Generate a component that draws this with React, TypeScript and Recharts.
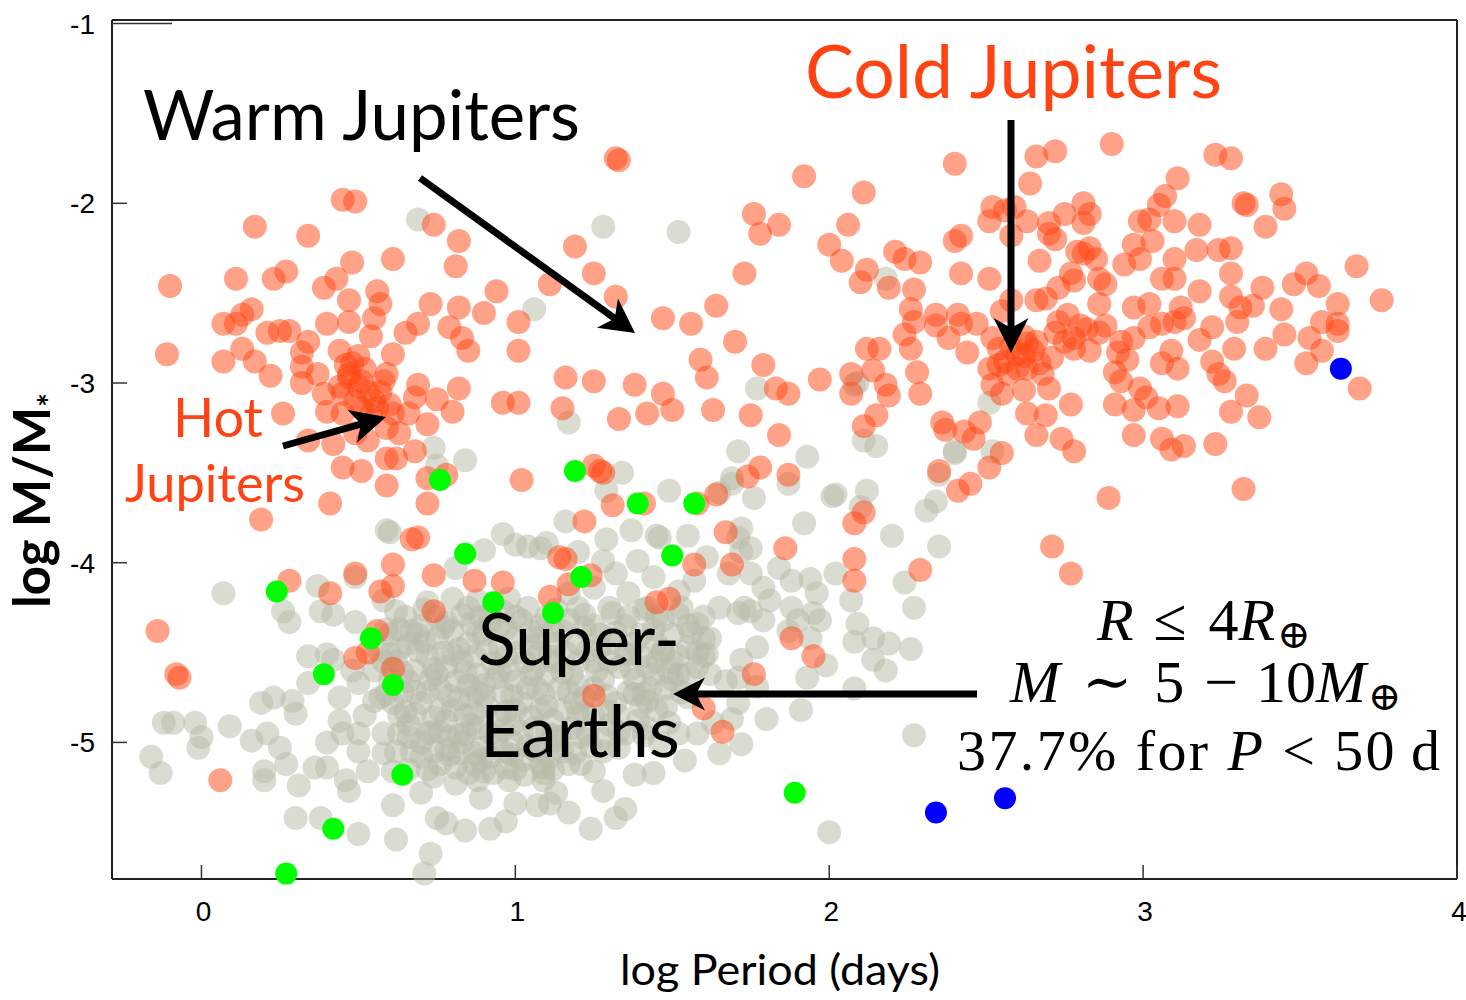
import React from 'react';
import { ScatterChart, Scatter, XAxis, YAxis } from 'recharts';

type Pt = [number, number];

// axis ticks
const xTicks = [0, 1, 2, 3, 4];
const yTicks = [-1, -2, -3, -4, -5];
const topTicks = [0, 0.893, 1.635, 3.0];
const rightTicks = [-1.94, -2.89, -3.84, -4.8];

// [log Period (days), log M/M*]
const hotJupiters: Pt[] = [
  [0.45, -1.98], [0.49, -1.99], [0.17, -2.13], [0.34, -2.18], [0.61, -2.31], [0.48, -2.33], [-0.10, -2.46],
  [0.11, -2.42], [0.23, -2.42], [0.27, -2.38], [0.39, -2.47], [0.43, -2.42], [0.47, -2.54], [0.56, -2.49],
  [0.57, -2.56], [0.16, -2.59], [0.13, -2.62], [0.07, -2.67], [0.11, -2.67], [0.21, -2.72], [0.25, -2.71],
  [0.28, -2.71], [0.40, -2.67], [0.47, -2.66], [0.55, -2.64], [0.54, -2.74], [0.73, -2.56], [0.82, -2.58],
  [0.90, -2.61], [0.94, -2.49], [0.65, -2.72], [0.69, -2.67], [0.79, -2.69], [0.83, -2.75], [0.85, -2.82],
  [-0.11, -2.84], [0.07, -2.88], [0.13, -2.81], [0.17, -2.88], [0.22, -2.96], [0.34, -2.77], [0.32, -2.83],
  [0.32, -2.91], [0.32, -3.00], [0.37, -2.95], [0.44, -2.82], [0.48, -2.89], [0.51, -2.99], [0.47, -2.97],
  [0.45, -3.06], [0.61, -2.84], [0.59, -2.95], [0.58, -2.99], [0.69, -3.01], [0.68, -3.08], [0.75, -3.09],
  [0.82, -3.03], [0.80, -3.16], [0.39, -3.06], [0.40, -3.16], [0.45, -3.17], [0.51, -3.14], [0.56, -3.14],
  [0.61, -3.17], [0.59, -3.25], [0.63, -3.28], [0.66, -3.17], [0.72, -3.23], [0.26, -3.17], [0.34, -3.32],
  [0.42, -3.34], [0.49, -3.28], [0.53, -3.32], [0.45, -3.47], [0.51, -3.49], [0.59, -3.42], [0.62, -3.42],
  [0.68, -3.38], [0.72, -3.53], [0.78, -3.51], [0.59, -3.57], [0.72, -3.67], [0.41, -3.67], [0.19, -3.76],
  [0.47, -2.95], [0.50, -3.02], [0.53, -3.05], [0.55, -3.10], [0.49, -3.10], [0.44, -3.02], [0.52, -2.92],
  [0.57, -3.05], [0.54, -3.18], [0.60, -3.12], [0.46, -2.90], [0.50, -2.85],
];

const warmJupiters: Pt[] = [
  [1.32, -1.75], [1.33, -1.76], [1.92, -1.85], [1.76, -2.06], [1.78, -2.17], [1.84, -2.12], [1.19, -2.24],
  [1.25, -2.39], [1.11, -2.45], [1.32, -2.52], [0.96, -3.11], [1.01, -3.11], [1.02, -3.54], [1.01, -2.82],
  [1.01, -2.66], [1.47, -2.64], [1.56, -2.67], [1.64, -2.57], [1.73, -2.39], [1.70, -2.77], [1.59, -2.87],
  [1.61, -2.97], [1.79, -2.90], [1.83, -3.03], [1.87, -3.06], [1.97, -2.98], [1.16, -2.97], [1.25, -2.99],
  [1.38, -3.01], [1.47, -3.06], [1.50, -3.15], [1.42, -3.17], [1.33, -3.20], [1.15, -3.14], [1.63, -3.15],
  [1.75, -3.18], [1.84, -3.29], [1.25, -3.46], [1.28, -3.50], [1.78, -3.47], [1.74, -3.52], [1.87, -3.51],
  [1.31, -3.68], [1.41, -3.67], [1.58, -3.67], [1.64, -3.62], [1.22, -3.77], [1.67, -3.83], [1.86, -3.92],
  [1.57, -4.01], [1.16, -3.98], [1.69, -4.01], [1.27, -3.49], [0.82, -2.21], [0.81, -2.35], [0.74, -2.12],
];

const coldJupiters: Pt[] = [
  [2.11, -1.94], [2.06, -2.12], [2.00, -2.23], [2.04, -2.32], [2.12, -2.37], [2.10, -2.44], [2.21, -2.27],
  [2.24, -2.31], [2.07, -2.95], [2.07, -3.06], [2.14, -2.93], [2.18, -3.01], [2.19, -3.07], [2.12, -2.81],
  [2.16, -2.81], [2.15, -3.18], [2.11, -3.24], [2.08, -3.78], [2.11, -3.72], [2.08, -3.98], [2.08, -4.10],
  [2.40, -1.78], [2.66, -1.74], [2.72, -1.71], [2.90, -1.67], [3.23, -1.73], [3.28, -1.75], [3.11, -1.86],
  [3.32, -2.00], [3.33, -2.01], [2.64, -1.89], [2.52, -2.02], [2.51, -2.10], [2.56, -2.04], [2.59, -2.02],
  [2.63, -2.10], [2.58, -2.18], [2.42, -2.18], [2.40, -2.21], [2.70, -2.11], [2.70, -2.17], [2.72, -2.20],
  [2.75, -2.06], [2.81, -2.00], [2.83, -2.06], [2.81, -2.11], [3.07, -1.96], [3.05, -2.01], [2.99, -2.10],
  [3.02, -2.09], [3.10, -2.10], [3.18, -2.12], [3.03, -2.21], [2.97, -2.23], [3.24, -2.26], [3.28, -2.25],
  [3.17, -2.26], [3.10, -2.31], [2.67, -2.32], [2.79, -2.27], [2.83, -2.25], [2.85, -2.31], [2.99, -2.31],
  [2.94, -2.34], [2.29, -2.33], [2.42, -2.39], [2.51, -2.42], [2.19, -2.47], [2.27, -2.48], [2.26, -2.59],
  [2.27, -2.66], [2.24, -2.73], [2.26, -2.81], [2.34, -2.62], [2.34, -2.68], [2.38, -2.75], [2.41, -2.62],
  [2.42, -2.67], [2.44, -2.83], [2.47, -2.67], [2.52, -2.75], [2.58, -2.54], [2.55, -2.60], [2.66, -2.54],
  [2.69, -2.53], [2.73, -2.47], [2.78, -2.43], [2.77, -2.39], [2.81, -2.28], [2.86, -2.42], [2.88, -2.45],
  [2.86, -2.56], [2.76, -2.62], [2.73, -2.66], [2.80, -2.68], [2.88, -2.68], [2.97, -2.58], [3.02, -2.56],
  [3.06, -2.42], [3.10, -2.42], [3.18, -2.49], [3.12, -2.58], [3.13, -2.64], [3.10, -2.66], [3.28, -2.39],
  [3.28, -2.52], [3.31, -2.58], [3.30, -2.66], [3.22, -2.69], [3.18, -2.76], [3.29, -2.81], [3.06, -2.67],
  [3.02, -2.69], [2.97, -2.75], [2.93, -2.77], [2.92, -2.83], [2.95, -2.87], [2.83, -2.82], [2.78, -2.81],
  [2.75, -2.77], [2.71, -2.86], [2.62, -2.74], [2.66, -2.77], [2.60, -2.84], [2.56, -2.88], [2.54, -2.81],
  [2.51, -2.92], [2.52, -3.01], [2.55, -3.06], [2.63, -2.92], [2.67, -2.89], [2.70, -3.03], [2.62, -3.04],
  [2.63, -3.17], [2.69, -3.18], [2.66, -3.29], [2.77, -3.12], [2.74, -3.31], [2.78, -3.38], [2.91, -2.94],
  [2.93, -2.99], [2.99, -3.03], [3.01, -3.08], [2.91, -3.12], [2.97, -3.15], [3.05, -3.14], [3.11, -3.13],
  [3.06, -2.89], [3.11, -2.92], [3.09, -2.82], [3.22, -2.88], [3.24, -2.95], [3.26, -2.99], [3.28, -3.16],
  [2.97, -3.29], [3.06, -3.31], [3.09, -3.37], [3.13, -3.35], [3.23, -3.34], [2.89, -3.64], [3.32, -3.59],
  [2.36, -3.22], [2.37, -3.26], [2.43, -3.27], [2.46, -3.31], [2.48, -3.22], [2.55, -3.39], [2.51, -3.47],
  [2.35, -3.49], [2.41, -3.60], [2.45, -3.56], [2.29, -3.06], [2.28, -2.94], [2.71, -3.91], [2.77, -4.06],
  [2.29, -4.04], [3.44, -1.95], [3.45, -2.03], [3.39, -2.13], [3.68, -2.35], [3.76, -2.54], [3.48, -2.45],
  [3.52, -2.39], [3.56, -2.46], [3.62, -2.56], [3.62, -2.67], [3.57, -2.66], [3.62, -2.71], [3.38, -2.47],
  [3.44, -2.59], [3.35, -2.57], [3.39, -2.81], [3.45, -2.73], [3.53, -2.75], [3.57, -2.82], [3.52, -2.89],
  [3.69, -3.03], [3.33, -3.07], [3.37, -3.19], [2.58, -2.80], [2.62, -2.85], [2.60, -2.92], [2.65, -2.82],
  [2.57, -2.95], [2.68, -2.95], [2.63, -2.78], [2.54, -2.90], [2.72, -2.72], [2.78, -2.75], [2.82, -2.70],
  [2.86, -2.72],
];

const lowMassGiants: Pt[] = [
  [0.67, -3.87], [0.69, -3.86], [0.61, -4.01], [0.61, -4.13], [0.49, -4.06], [0.28, -4.10], [0.41, -4.17],
  [0.57, -4.16], [0.74, -4.07], [-0.14, -4.38], [-0.08, -4.62], [-0.07, -4.64], [0.06, -5.21], [0.56, -4.38],
  [0.49, -4.53], [0.53, -4.50], [0.61, -4.59], [0.74, -4.27], [0.87, -4.10], [0.96, -4.11], [1.14, -3.97],
  [1.17, -4.12], [1.11, -4.19], [1.24, -4.07], [1.88, -4.42], [1.95, -4.52], [1.76, -4.62], [1.66, -4.94],
  [1.60, -4.81], [1.25, -4.74], [1.45, -4.22], [1.49, -4.20],
];

const superEarths: Pt[] = [
  [1.28, -2.13], [1.52, -2.16], [1.06, -2.59], [1.17, -3.22], [1.77, -3.03], [2.08, -3.01], [2.18, -2.42],
  [2.11, -3.32], [2.15, -3.35], [1.71, -3.38], [1.93, -3.41], [1.34, -3.50], [1.29, -3.60], [1.49, -3.60],
  [1.69, -3.53], [1.65, -3.61], [1.76, -3.64], [1.87, -3.56], [2.01, -3.63], [2.12, -3.60], [2.10, -3.69],
  [1.92, -3.78], [2.20, -3.85], [1.55, -3.85], [1.46, -3.86], [1.71, -3.86], [1.72, -3.94], [0.69, -2.09],
  [0.74, -3.36], [0.84, -3.43], [0.75, -3.46], [0.59, -3.82], [0.96, -3.84], [0.60, -3.83], [1.00, -3.90],
  [0.90, -3.93], [1.16, -3.77], [0.81, -4.03], [1.04, -3.91], [1.08, -3.92], [0.07, -4.17], [0.26, -4.27],
  [0.28, -4.33], [0.37, -4.13], [0.38, -4.27], [0.42, -4.29], [0.49, -4.08], [0.49, -4.33], [0.58, -4.21],
  [0.63, -4.37], [0.72, -4.22], [0.88, -4.21], [0.34, -4.52], [0.40, -4.51], [0.34, -4.67], [0.42, -4.54],
  [0.19, -4.78], [0.23, -4.75], [0.29, -4.77], [0.30, -4.84], [0.44, -4.75], [0.50, -4.67], [0.55, -4.77],
  [-0.12, -4.89], [-0.09, -4.89], [-0.02, -4.89], [0.00, -4.97], [-0.01, -5.03], [0.09, -4.91], [-0.16, -5.08],
  [-0.13, -5.17], [0.16, -4.99], [0.21, -4.95], [0.25, -5.03], [0.20, -5.16], [0.20, -5.21], [0.27, -5.12],
  [0.31, -5.24], [0.36, -5.14], [0.40, -5.14], [0.46, -5.21], [0.47, -5.27], [0.53, -5.16], [0.58, -5.06],
  [0.61, -5.16], [0.40, -5.00], [0.44, -4.88], [0.50, -4.95], [0.61, -5.35], [0.30, -5.42], [0.38, -5.42],
  [0.50, -5.51], [0.62, -5.54], [0.73, -5.62], [0.71, -5.73], [0.70, -5.28], [0.74, -5.19], [0.75, -5.42],
  [0.78, -5.45], [0.84, -5.49], [0.92, -5.48], [0.97, -5.44], [1.00, -5.34], [1.07, -5.35], [1.13, -5.28],
  [1.17, -5.39], [0.89, -5.31], [0.81, -5.23], [0.88, -5.21], [0.98, -5.21], [1.09, -5.21], [2.40, -3.38],
  [1.69, -3.56], [2.31, -3.71], [2.34, -3.66], [2.35, -3.91], [2.24, -4.11], [2.27, -4.25], [2.19, -4.45],
  [2.26, -4.48], [2.14, -4.54], [2.18, -4.60], [2.09, -4.34], [2.08, -4.44], [2.07, -4.21], [1.99, -4.57],
  [2.08, -4.70], [1.91, -4.82], [1.80, -4.87], [1.93, -4.64], [2.27, -4.96], [2.00, -5.50], [1.94, -4.09],
  [2.02, -4.06], [1.96, -4.17], [1.88, -4.25], [1.90, -4.32], [1.95, -4.28], [1.97, -4.32], [1.87, -4.38],
  [1.94, -4.42], [1.81, -4.21], [1.88, -4.10], [1.84, -4.03], [1.75, -4.06], [1.79, -4.14], [1.73, -4.25],
  [1.75, -4.27], [1.79, -4.32], [1.77, -4.47], [1.72, -4.54], [1.71, -4.64], [1.77, -4.69], [1.71, -4.78],
  [1.69, -4.87], [1.72, -5.01], [1.65, -5.06], [1.63, -4.89], [1.54, -5.10], [1.44, -5.17], [1.35, -5.37],
  [1.32, -5.42], [1.28, -5.27], [1.24, -5.48], [1.11, -5.34], [1.21, -5.12], [1.38, -5.18], [1.58, -4.95],
  [1.49, -4.89], [1.67, -4.66], [1.62, -4.42], [1.65, -4.25], [1.71, -4.28], [1.68, -4.06], [1.61, -3.97],
  [1.57, -4.10], [1.52, -4.16], [1.75, -3.92], [1.72, -3.81], [1.45, -3.85], [1.37, -3.82], [1.29, -3.87],
  [1.10, -3.89], [1.20, -3.94], [1.28, -3.99], [1.39, -3.99], [1.32, -4.06], [1.44, -4.08], [1.36, -4.17],
  [1.25, -4.14], [1.17, -4.17], [1.30, -4.25], [1.42, -4.25], [1.53, -4.25], [1.58, -4.34], [1.47, -4.32],
  [1.61, -4.51], [1.55, -4.47], [1.47, -4.49], [1.52, -4.62], [1.44, -4.62], [1.55, -4.75], [1.42, -4.77],
  [1.39, -4.88], [1.33, -5.03], [1.21, -4.97], [1.13, -4.99], [1.09, -5.17], [2.09, -3.00], [2.40, -3.39],
  [2.52, -3.38], [2.51, -3.11], [2.35, -3.51], [2.02, -3.62], [2.14, -4.42],
  [0.60, -4.40], [0.66, -4.45], [0.70, -4.35], [0.75, -4.42], [0.80, -4.38], [0.85, -4.45], [0.90, -4.40],
  [0.95, -4.35], [1.00, -4.42], [1.05, -4.38], [0.62, -4.55], [0.68, -4.60], [0.72, -4.52], [0.78, -4.58],
  [0.83, -4.55], [0.88, -4.62], [0.93, -4.56], [0.98, -4.60], [1.03, -4.55], [1.08, -4.50], [0.64, -4.72],
  [0.70, -4.78], [0.76, -4.70], [0.80, -4.82], [0.86, -4.75], [0.91, -4.80], [0.96, -4.72], [1.02, -4.78],
  [1.07, -4.70], [0.66, -4.90], [0.72, -4.95], [0.78, -4.88], [0.83, -5.00], [0.88, -4.92], [0.94, -4.98],
  [0.99, -4.90], [1.04, -5.02], [1.10, -4.95], [0.70, -5.08], [0.76, -5.12], [0.82, -5.06], [0.87, -5.12],
  [0.92, -5.08], [0.97, -5.14], [1.02, -5.10], [1.08, -5.12], [0.80, -4.20], [0.85, -4.25], [0.92, -4.28],
  [0.98, -4.20], [1.04, -4.25], [1.10, -4.30], [1.15, -4.38], [1.20, -4.45], [1.12, -4.55], [1.18, -4.62],
  [1.25, -4.55], [1.30, -4.45], [1.35, -4.50], [1.40, -4.40], [1.28, -4.65], [1.22, -4.75], [1.15, -4.82],
  [1.18, -4.92], [1.25, -4.85], [1.32, -4.78], [1.38, -4.65], [1.45, -4.55], [1.50, -4.40], [1.55, -4.35],
  [1.60, -4.30], [1.48, -4.70], [0.55, -4.60], [0.52, -4.85], [0.58, -4.95], [0.62, -5.05], [0.56, -4.48],
  [0.48, -4.60], [0.45, -4.95], [0.50, -5.05],
  [0.65, -4.30], [0.75, -4.30], [0.95, -4.47], [1.06, -4.46], [0.86, -4.34], [0.73, -4.65], [0.81, -4.66],
  [0.90, -4.68], [1.00, -4.66], [1.10, -4.62], [1.14, -4.70], [0.68, -4.84], [0.74, -4.86], [0.84, -4.85],
  [0.95, -4.85], [1.05, -4.86], [1.12, -4.88], [0.70, -5.00], [0.79, -4.97], [0.89, -5.03], [0.99, -5.00],
  [1.07, -5.05], [1.15, -5.05], [0.74, -5.05], [0.85, -5.17], [0.93, -5.17], [1.03, -5.18], [1.12, -5.15],
  [0.66, -5.15], [1.20, -4.55], [1.27, -4.47], [1.33, -4.58], [1.40, -4.52], [1.45, -4.45], [1.35, -4.35],
  [1.25, -4.35], [1.20, -4.25], [1.43, -4.70], [1.36, -4.72], [1.30, -4.90], [1.22, -4.83], [1.28, -4.98],
  [1.35, -4.95], [1.40, -4.80], [1.50, -4.55], [1.58, -4.50], [1.62, -4.62], [1.55, -4.62], [1.48, -4.80],
  [1.46, -5.00], [1.52, -4.95], [0.92, -4.33], [1.02, -4.32], [1.13, -4.45], [0.84, -4.95], [0.60, -4.65],
  [0.57, -4.75], [0.63, -4.85], [1.05, -4.62], [0.82, -4.48],
  [0.63, -4.48], [0.71, -4.44], [0.77, -4.50], [0.87, -4.52], [0.97, -4.52], [1.07, -4.42], [1.16, -4.50],
  [0.66, -4.66], [0.75, -4.62], [0.85, -4.68], [0.94, -4.64], [1.04, -4.70], [1.20, -4.68], [0.61, -4.78],
  [0.72, -4.72], [0.82, -4.76], [0.90, -4.74], [1.00, -4.82], [1.10, -4.80], [1.19, -4.78], [0.66, -4.97],
  [0.76, -4.94], [0.86, -4.90], [0.96, -4.93], [1.06, -4.92], [1.14, -4.97], [1.24, -5.02], [0.79, -5.07],
  [0.89, -5.10], [0.99, -5.07], [1.11, -5.08], [1.17, -5.12], [0.78, -4.33], [0.89, -4.30], [1.00, -4.30],
  [1.08, -4.35], [1.17, -4.32], [1.27, -4.40], [1.38, -4.45], [1.30, -4.55], [1.42, -4.58], [1.52, -4.52],
  [1.25, -4.70], [1.33, -4.85], [1.42, -4.92], [1.38, -4.73], [1.50, -4.65], [1.60, -4.42], [1.45, -4.30],
  [1.36, -4.30], [0.69, -4.40], [0.58, -4.55],
  [0.62, -4.27], [0.71, -4.26], [0.83, -4.29], [0.96, -4.27], [1.13, -4.26], [1.22, -4.29], [1.31, -4.28],
  [1.41, -4.26], [1.52, -4.29], [0.59, -4.37], [0.67, -4.38], [0.77, -4.36], [0.88, -4.39], [0.97, -4.37],
  [1.12, -4.38], [1.22, -4.36], [1.32, -4.39], [1.44, -4.37], [1.56, -4.39], [0.60, -4.51], [0.69, -4.49],
  [0.80, -4.51], [0.91, -4.49], [1.01, -4.50], [1.11, -4.52], [1.23, -4.49], [1.36, -4.51], [1.47, -4.50],
  [1.60, -4.52], [0.64, -4.61], [0.74, -4.59], [0.84, -4.61], [0.95, -4.60], [1.06, -4.59], [1.15, -4.61],
  [1.26, -4.60], [1.37, -4.59], [1.49, -4.61], [1.58, -4.58], [0.59, -4.73], [0.68, -4.72], [0.79, -4.74],
  [0.88, -4.72], [0.99, -4.74], [1.09, -4.73], [1.17, -4.72], [1.29, -4.74], [1.41, -4.73], [1.53, -4.72],
  [0.65, -4.83], [0.76, -4.82], [0.87, -4.84], [0.97, -4.83], [1.08, -4.82], [1.20, -4.84], [1.30, -4.83],
  [1.45, -4.82], [0.63, -4.95], [0.73, -4.94], [0.82, -4.96], [0.92, -4.95], [1.02, -4.94], [1.12, -4.96],
  [1.23, -4.95], [1.33, -4.94], [1.41, -4.96], [0.67, -5.05], [0.78, -5.04], [0.87, -5.06], [0.96, -5.05],
  [1.06, -5.04], [1.19, -5.06], [1.28, -5.05], [0.72, -5.15], [0.81, -5.14], [0.90, -5.16], [1.00, -5.15],
  [1.09, -5.14], [1.25, -5.16],
];

const greenPlanets: Pt[] = [
  [0.76, -3.54], [1.19, -3.49], [1.39, -3.67], [1.57, -3.67], [0.84, -3.95], [1.50, -3.96], [1.21, -4.08],
  [0.93, -4.22], [1.12, -4.28], [0.24, -4.16], [0.54, -4.42], [0.39, -4.62], [0.61, -4.68], [0.64, -5.18],
  [1.89, -5.28], [0.42, -5.48], [0.27, -5.73],
];

const bluePlanets: Pt[] = [
  [3.63, -2.92], [2.56, -5.31], [2.34, -5.39],
];

const toRows = (pts: Pt[]) => pts.map(([p, m]) => ({ p, m }));

const ORANGE = '#ff4512';
const GRAY = '#b6b9a6';
const LABEL_ORANGE = '#ff4313';
const TICK_FONT = '"Liberation Sans", Arial, sans-serif';
const SANS = 'Lato, "Open Sans", sans-serif';
const SERIF = '"Liberation Serif", "DejaVu Serif", serif';

const dot = (fill: string, opacity: number, r: number) => (props: any) =>
  props.cx == null ? <g /> : <circle cx={props.cx} cy={props.cy} r={r} fill={fill} fillOpacity={opacity} />;

const BottomTick = (props: any) => {
  const { x, y, payload } = props;
  return (
    <g>
      <line x1={x} y1={y} x2={x} y2={y - 14} stroke="#333" strokeWidth={1.5} />
      <text x={x + 2} y={y + 42} textAnchor="middle" fontSize={28} fontFamily={TICK_FONT} fill="#000">
        {payload.value}
      </text>
    </g>
  );
};

const TopTick = (props: any) => {
  const { x, y } = props;
  return <line x1={x} y1={y} x2={x} y2={y + 13} stroke="#333" strokeWidth={1.5} />;
};

const LeftTick = (props: any) => {
  const { x, y, payload } = props;
  const len = payload.value === -1 ? 60 : 15;
  return (
    <g>
      <line x1={x} y1={y} x2={x + len} y2={y} stroke="#333" strokeWidth={1.5} />
      <text x={x - 17} y={y + 10} textAnchor="end" fontSize={28} fontFamily={TICK_FONT} fill="#000">
        {payload.value}
      </text>
    </g>
  );
};

const RightTick = (props: any) => {
  const { x, y } = props;
  return <line x1={x} y1={y} x2={x - 14} y2={y} stroke="#333" strokeWidth={1.5} />;
};

function Arrow({ x1, y1, x2, y2, head = 34, hw = 17, notch = 9, w = 7 }: any) {
  const dx = x2 - x1, dy = y2 - y1;
  const L = Math.hypot(dx, dy);
  const ux = dx / L, uy = dy / L;
  const nx = -uy, ny = ux;
  const bx = x2 - ux * head, by = y2 - uy * head;
  const mx = x2 - ux * (head - notch), my = y2 - uy * (head - notch);
  const pts = `${x2},${y2} ${bx + nx * hw},${by + ny * hw} ${mx},${my} ${bx - nx * hw},${by - ny * hw}`;
  return (
    <g>
      <line x1={x1} y1={y1} x2={mx} y2={my} stroke="#000" strokeWidth={w} />
      <polygon points={pts} fill="#000" />
    </g>
  );
}

const axisLineStyle = { stroke: '#222', strokeWidth: 2 };

export default function App() {
  return (
    <div style={{ position: 'absolute', left: 0, top: 0, width: 1466, height: 1000, background: '#fff' }}>
      <ScatterChart width={1466} height={1000} margin={{ top: 19, right: 8, bottom: 120, left: 111 }}>
        <XAxis
          xAxisId="bottom"
          orientation="bottom"
          type="number"
          dataKey="p"
          domain={[-0.285, 4]}
          ticks={xTicks}
          interval={0}
          height={1}
          tickSize={0}
          tickMargin={0}
          tickLine={false}
          axisLine={axisLineStyle}
          tick={BottomTick}
        />
        <XAxis
          xAxisId="top"
          orientation="top"
          type="number"
          dataKey="p"
          domain={[-0.285, 4]}
          ticks={topTicks}
          interval={0}
          height={1}
          tickSize={0}
          tickMargin={0}
          tickLine={false}
          axisLine={axisLineStyle}
          tick={TopTick}
        />
        <YAxis
          yAxisId="left"
          orientation="left"
          type="number"
          dataKey="m"
          domain={[-5.76, -0.98]}
          ticks={yTicks}
          interval={0}
          width={1}
          tickSize={0}
          tickMargin={0}
          tickLine={false}
          axisLine={axisLineStyle}
          tick={LeftTick}
        />
        <YAxis
          yAxisId="right"
          orientation="right"
          type="number"
          dataKey="m"
          domain={[-5.76, -0.98]}
          ticks={rightTicks}
          interval={0}
          width={1}
          tickSize={0}
          tickMargin={0}
          tickLine={false}
          axisLine={axisLineStyle}
          tick={RightTick}
        />
        <Scatter xAxisId="bottom" yAxisId="left" data={toRows(superEarths)} shape={dot(GRAY, 0.5, 12)} isAnimationActive={false} />
        <Scatter xAxisId="bottom" yAxisId="left" data={toRows(hotJupiters)} shape={dot(ORANGE, 0.5, 12)} isAnimationActive={false} />
        <Scatter xAxisId="bottom" yAxisId="left" data={toRows(warmJupiters)} shape={dot(ORANGE, 0.5, 12)} isAnimationActive={false} />
        <Scatter xAxisId="bottom" yAxisId="left" data={toRows(coldJupiters)} shape={dot(ORANGE, 0.5, 12)} isAnimationActive={false} />
        <Scatter xAxisId="bottom" yAxisId="left" data={toRows(lowMassGiants)} shape={dot(ORANGE, 0.5, 12)} isAnimationActive={false} />
        <Scatter xAxisId="bottom" yAxisId="left" data={toRows(greenPlanets)} shape={dot('#00ff00', 1, 11)} isAnimationActive={false} />
        <Scatter xAxisId="bottom" yAxisId="left" data={toRows(bluePlanets)} shape={dot('#0000ff', 1, 11)} isAnimationActive={false} />
      </ScatterChart>
      <svg
        width={1466}
        height={1000}
        style={{ position: 'absolute', left: 0, top: 0, pointerEvents: 'none' }}
      >
        <text x={143} y={140} fontSize={70} fontFamily={SANS} fill="#000" textLength={437} lengthAdjust="spacingAndGlyphs">
          Warm Jupiters
        </text>
        <text x={805} y={98} fontSize={74} fontFamily={SANS} fill={LABEL_ORANGE} textLength={417} lengthAdjust="spacingAndGlyphs">
          Cold Jupiters
        </text>
        <text x={173} y={437} fontSize={54} fontFamily={SANS} fill={LABEL_ORANGE} textLength={90} lengthAdjust="spacingAndGlyphs">
          Hot
        </text>
        <text x={125} y={502} fontSize={53} fontFamily={SANS} fill={LABEL_ORANGE} textLength={180} lengthAdjust="spacingAndGlyphs">
          Jupiters
        </text>
        <text x={478} y={665} fontSize={72} fontFamily={SANS} fill="#000" textLength={202} lengthAdjust="spacingAndGlyphs">
          Super-
        </text>
        <text x={480} y={757} fontSize={72} fontFamily={SANS} fill="#000" textLength={200} lengthAdjust="spacingAndGlyphs">
          Earths
        </text>
        <Arrow x1={420} y1={178} x2={635} y2={333} head={34} hw={18} notch={9} />
        <Arrow x1={1011} y1={120} x2={1011} y2={353} head={35} hw={17.5} notch={10} />
        <Arrow x1={283} y1={446} x2={386} y2={417} head={35} hw={17} notch={9} />
        <Arrow x1={977} y1={694} x2={673} y2={694} head={32} hw={16.5} notch={9} />
        <text x={1097} y={640} fontSize={60} fontFamily={SERIF} fill="#000">
          <tspan fontStyle="italic">R</tspan>
          <tspan dx={20}>{'\u2264'}</tspan>
          <tspan dx={22}>4</tspan>
          <tspan fontStyle="italic">R</tspan>
          <tspan fontSize={40} dy={8} dx={2}>{'\u2295'}</tspan>
        </text>
        <text x={1010} y={702} fontSize={60} fontFamily={SERIF} fill="#000">
          <tspan fontStyle="italic">M</tspan>
          <tspan dx={22}>{'\u223C'}</tspan>
          <tspan dx={22}>5</tspan>
          <tspan dx={20}>{'\u2212'}</tspan>
          <tspan dx={18}>10</tspan>
          <tspan fontStyle="italic">M</tspan>
          <tspan fontSize={40} dy={8} dx={2}>{'\u2295'}</tspan>
        </text>
        <text x={957} y={770} fontSize={58} fontFamily={SERIF} fill="#000" textLength={483} lengthAdjust="spacing">
          <tspan>{'37.7% for '}</tspan>
          <tspan fontStyle="italic">P</tspan>
          <tspan>{' < 50\u2009d'}</tspan>
        </text>
        <text x={620} y={985} fontSize={42} fontFamily={SANS} fill="#000" textLength={320} lengthAdjust="spacingAndGlyphs">
          log Period (days)
        </text>
        <text transform="translate(50,608) rotate(-90)" fontSize={51} fontFamily={SANS} fontWeight={700} fill="#000">
          log M/M
          <tspan fontSize={32} dy={12}>*</tspan>
        </text>
      </svg>
    </div>
  );
}
